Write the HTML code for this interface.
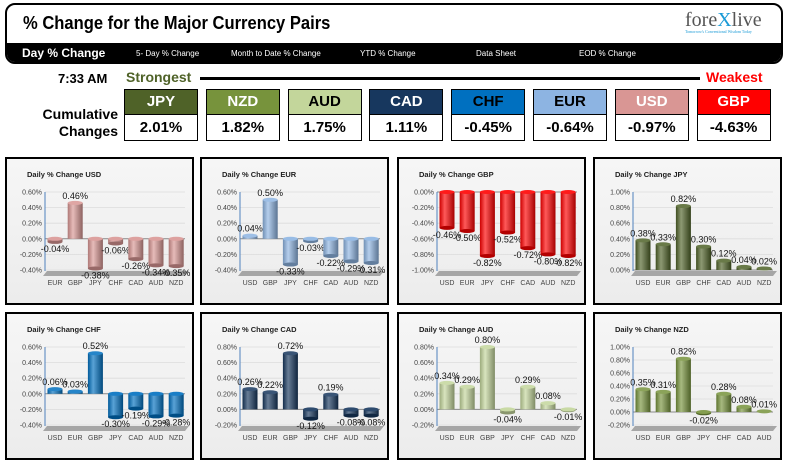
<!DOCTYPE html>
<html><head><meta charset="utf-8">
<style>
body{margin:0;width:790px;height:465px;background:#fff;position:relative;overflow:hidden;font-family:"Liberation Sans",sans-serif}
.abs{position:absolute}
.cond{font-family:"Liberation Sans Narrow","Liberation Sans",sans-serif;font-weight:bold}
#hdr{left:5px;top:3px;width:774px;height:57px;border:2px solid #000;border-radius:10px;overflow:hidden;background:#fff}
#nav{left:0;top:38px;width:774px;height:21px;background:#000}
.nav{color:#fff;font-size:8px;top:6px;white-space:nowrap}
.box{width:72px;height:50px;border:1px solid #000;background:#fff}
.bh{height:24px;line-height:24px;text-align:center;font-size:15px;border-bottom:1px solid #000}
.bv{height:25px;line-height:25px;text-align:center;font-size:15px;background:#fff;color:#000}
.panel{width:185px;height:144px;border:2px solid #000;background:linear-gradient(#f6f6f6,#ececec)}
</style></head><body>
<div id="hdr" class="abs">
 <div class="abs cond" style="left:16px;top:8px;font-size:18px;transform:scaleX(0.92);transform-origin:left">% Change for the Major Currency Pairs</div>
 <div class="abs" style="left:678px;top:4px;font-family:'Liberation Serif',serif;font-size:20px;color:#555">fore<span style="color:#1a9ad6">X</span>live<div style="font-size:4px;color:#1a9ad6;margin-top:-3px">Tomorrow's Conventional Wisdom Today</div></div>
 <div id="nav" class="abs">
  <div class="abs cond" style="left:15px;top:3px;color:#fff;font-size:12px">Day % Change</div>
  <div class="abs nav" style="left:129px">5- Day % Change</div>
  <div class="abs nav" style="left:224px">Month to Date % Change</div>
  <div class="abs nav" style="left:353px">YTD % Change</div>
  <div class="abs nav" style="left:469px">Data Sheet</div>
  <div class="abs nav" style="left:572px">EOD % Change</div>
 </div>
</div>
<div class="abs cond" style="left:58px;top:71px;font-size:13px">7:33 AM</div>
<div class="abs cond" style="left:126px;top:69px;font-size:14px;color:#4f6228">Strongest</div>
<div class="abs" style="left:200px;top:77px;width:500px;height:3px;background:#000"></div>
<div class="abs cond" style="left:706px;top:69px;font-size:14px;color:#ff0000">Weakest</div>
<div class="abs cond" style="left:40px;top:106px;font-size:14px;text-align:right;width:78px;line-height:17px">Cumulative<br>Changes</div>
<div id="boxes"></div>
<div id="panels"></div>
<script>
const cumNames=["JPY","NZD","AUD","CAD","CHF","EUR","USD","GBP"];
const cumValues=[2.01,1.82,1.75,1.11,-0.45,-0.64,-0.97,-4.63];
const cumColors=["#4f6228","#77933c","#c3d69b","#17375e","#0070c0","#8db4e2","#d99694","#ff0000"];
const cumText=["#fff","#fff","#000","#fff","#000","#000","#fff","#fff"];
const bx=document.getElementById('boxes');
cumNames.forEach((n,i)=>{
 const d=document.createElement('div');
 d.className='abs box cond';
 d.style.left=(124+i*81.8)+'px';d.style.top='89px';
 
 
 d.innerHTML='<div class="bh" style="background:'+cumColors[i]+';color:'+cumText[i]+'">'+n+'</div><div class="bv">'+cumValues[i].toFixed(2)+'%</div>';
 bx.appendChild(d);
});

const usdCats=["EUR","GBP","JPY","CHF","CAD","AUD","NZD"];
const usdVals=[-0.04,0.46,-0.38,-0.06,-0.26,-0.34,-0.35];
const usdTicks=[0.6,0.4,0.2,0,-0.2,-0.4];
const eurCats=["USD","GBP","JPY","CHF","CAD","AUD","NZD"];
const eurVals=[0.04,0.50,-0.33,-0.03,-0.22,-0.29,-0.31];
const eurTicks=[0.6,0.4,0.2,0,-0.2,-0.4];
const gbpCats=["USD","EUR","JPY","CHF","CAD","AUD","NZD"];
const gbpVals=[-0.46,-0.50,-0.82,-0.52,-0.72,-0.80,-0.82];
const gbpTicks=[0,-0.2,-0.4,-0.6,-0.8,-1.0];
const jpyCats=["USD","EUR","GBP","CHF","CAD","AUD","NZD"];
const jpyVals=[0.38,0.33,0.82,0.30,0.12,0.04,0.02];
const jpyTicks=[1.0,0.8,0.6,0.4,0.2,0];
const chfCats=["USD","EUR","GBP","JPY","CAD","AUD","NZD"];
const chfVals=[0.06,0.03,0.52,-0.30,-0.19,-0.29,-0.28];
const chfTicks=[0.6,0.4,0.2,0,-0.2,-0.4];
const cadCats=["USD","EUR","GBP","JPY","CHF","AUD","NZD"];
const cadVals=[0.26,0.22,0.72,-0.12,0.19,-0.08,-0.08];
const cadTicks=[0.8,0.6,0.4,0.2,0,-0.2];
const audCats=["USD","EUR","GBP","JPY","CHF","CAD","NZD"];
const audVals=[0.34,0.29,0.80,-0.04,0.29,0.08,-0.01];
const audTicks=[0.8,0.6,0.4,0.2,0,-0.2];
const nzdCats=["USD","EUR","GBP","JPY","CHF","CAD","AUD"];
const nzdVals=[0.35,0.31,0.82,-0.02,0.28,0.08,0.01];
const nzdTicks=[1.0,0.8,0.6,0.4,0.2,0,-0.2];

const panels=[
 {t:"USD",c:usdCats,v:usdVals,k:usdTicks,col:"#d99694",x:5,y:157},
 {t:"EUR",c:eurCats,v:eurVals,k:eurTicks,col:"#8db4e2",x:200,y:157},
 {t:"GBP",c:gbpCats,v:gbpVals,k:gbpTicks,col:"#ff0000",x:397,y:157},
 {t:"JPY",c:jpyCats,v:jpyVals,k:jpyTicks,col:"#4f6228",x:593,y:157},
 {t:"CHF",c:chfCats,v:chfVals,k:chfTicks,col:"#0070c0",x:5,y:312},
 {t:"CAD",c:cadCats,v:cadVals,k:cadTicks,col:"#17375e",x:200,y:312},
 {t:"AUD",c:audCats,v:audVals,k:audTicks,col:"#c3d69b",x:397,y:312},
 {t:"NZD",c:nzdCats,v:nzdVals,k:nzdTicks,col:"#77933c",x:593,y:312}
];
const NS='http://www.w3.org/2000/svg';
function el(tag,attrs,parent){const e=document.createElementNS(NS,tag);for(const a in attrs)e.setAttribute(a,attrs[a]);parent.appendChild(e);return e;}
function shade(hex,f){const n=parseInt(hex.slice(1),16);let r=n>>16,g=(n>>8)&255,b=n&255;
 const m=c=>Math.max(0,Math.min(255,Math.round(f>0?c+(255-c)*f:c*(1+f))));return 'rgb('+m(r)+','+m(g)+','+m(b)+')';}
const host=document.getElementById('panels');
panels.forEach((p,pi)=>{
 const d=document.createElement('div');
 d.className='abs panel';d.style.left=p.x+'px';d.style.top=p.y+'px';
 
 
 host.appendChild(d);
 const s=el('svg',{width:185,height:144},d);
 
 
 const defs=el('defs',{},s);
 const g=el('linearGradient',{id:'g'+pi,x1:0,x2:1,y1:0,y2:0},defs);
 el('stop',{offset:'0','stop-color':shade(p.col,-0.2)},g);
 el('stop',{offset:'0.35','stop-color':shade(p.col,0.35)},g);
 el('stop',{offset:'1','stop-color':shade(p.col,-0.35)},g);
 const tt=el('text',{x:20,y:18,'font-size':7.5,'font-weight':'bold',fill:'#222'},s);
 tt.textContent='Daily % Change '+p.t;
 
 
 const top=33,bot=111,ax=38,right=178;
 const vmax=Math.max(...p.k),vmin=Math.min(...p.k);
 const Y=v=>top+(vmax-v)/(vmax-vmin)*(bot-top);
 const X=i=>48+i*20.2;
 el('polygon',{points:(ax+2)+','+(bot+1)+' '+(right+4)+','+(bot+1)+' '+(right)+','+(bot+6)+' '+(ax-2)+','+(bot+6),fill:'#a6a6a6'},s);
 p.k.forEach(t=>{
  const y=Y(t);
  el('line',{x1:ax,x2:right,y1:y,y2:y,stroke:Math.abs(t)<1e-9?'#888':'#dcdcdc','stroke-width':Math.abs(t)<1e-9?1:0.8},s);
  const tx=el('text',{x:ax-3,y:y+2.5,'font-size':7,'text-anchor':'end',fill:'#444'},s);
  tx.textContent=t.toFixed(2)+'%';
  
  
 });
 el('line',{x1:ax,x2:ax,y1:top,y2:bot+1,stroke:'#4f81bd','stroke-width':1},s);
 const y0=Y(0);
 p.v.forEach((v,i)=>{
  const cx=X(i),w=15,yv=Y(v);
  const y1=Math.min(yv,y0),h=Math.abs(yv-y0);
  const r=el('rect',{x:cx-w/2,y:y1,width:w,height:Math.max(h,0.5),fill:'url(#g'+pi+')'},s);
  
  
  el('ellipse',{cx:cx,cy:yv,rx:w/2,ry:2,fill:v>=0?shade(p.col,0.15):shade(p.col,-0.3)},s);
  if(v<0) el('ellipse',{cx:cx,cy:y0,rx:w/2,ry:2,fill:shade(p.col,0.1)},s);
  const lbl=el('text',{x:cx,y:v>=0?yv-4:yv+10,'font-size':9,'text-anchor':'middle',fill:'#111'},s);
  lbl.textContent=v.toFixed(2)+'%';
  
  
  const cl=el('text',{x:cx,y:bot+15,'font-size':7,'text-anchor':'middle',fill:'#444'},s);
  cl.textContent=p.c[i];
  
  
 });
});
</script>
</body></html>
